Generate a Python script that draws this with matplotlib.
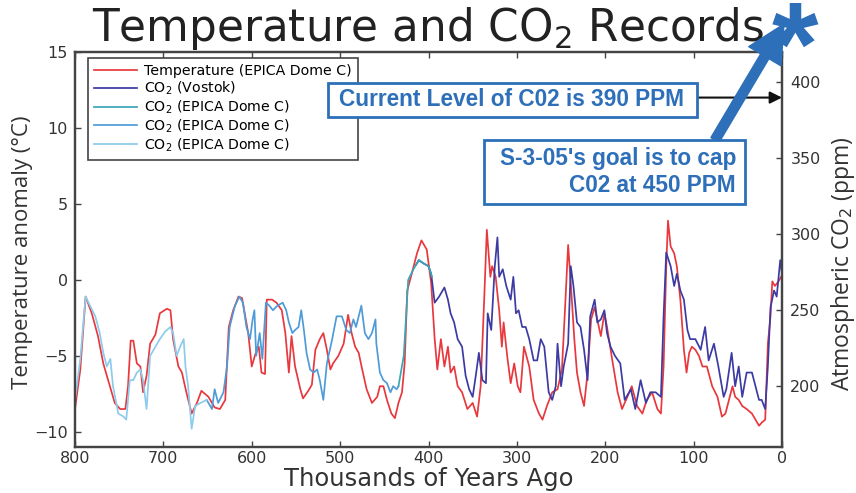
import matplotlib
matplotlib.use("Agg")
import matplotlib.pyplot as plt
from matplotlib.patches import Rectangle, FancyArrowPatch

# ---- temperature anomaly, EPICA Dome C (kyr before present, deg C) ----
temp_age = [800, 794, 788, 781, 774, 768, 762, 755, 749, 743,
            740, 737, 734, 730, 726, 723, 719, 715, 709, 704,
            696, 692, 689, 683, 679, 674, 668, 662, 657, 649,
            642, 636, 630, 626, 621, 615, 611, 604, 600, 596,
            592, 589, 585, 583, 577, 572, 566, 562, 558, 555,
            551, 545, 542, 536, 532, 528, 523, 519, 515, 511,
            508, 502, 496, 491, 487, 483, 479, 475, 470, 464,
            458, 455, 451, 447, 442, 438, 434, 430, 427, 424,
            419, 413, 408, 402, 397, 393, 390, 386, 382, 378,
            375, 371, 367, 362, 356, 350, 345, 341, 337, 334,
            330, 328, 324, 320, 317, 315, 311, 307, 303, 299,
            296, 292, 286, 281, 275, 271, 266, 260, 254, 249,
            245, 242, 239, 235, 232, 228, 224, 220, 216, 212,
            209, 205, 201, 198, 192, 186, 181, 175, 170, 164,
            158, 153, 147, 141, 137, 134, 131, 129, 126, 122,
            119, 115, 111, 108, 105, 102, 98, 94, 90, 85,
            79, 73, 68, 64, 60, 56, 53, 49, 45, 40,
            34, 30, 26, 23, 19, 16, 13, 11, 8, 4,
            1]
temp_anom = [-8.5, -5.9, -1.1, -2.2, -3.7, -5.5, -6.7, -8.1, -8.5, -8.5,
             -7.0, -4.0, -4.0, -5.5, -5.7, -7.4, -6.3, -4.2, -3.6, -2.2,
             -1.9, -2.0, -3.9, -5.7, -6.1, -7.4, -8.8, -8.1, -7.3, -7.7,
             -8.4, -8.5, -7.9, -3.1, -2.0, -1.1, -1.2, -3.5, -5.7, -4.9,
             -4.4, -6.1, -6.2, -1.3, -1.3, -1.5, -2.0, -3.5, -6.1, -3.7,
             -5.7, -7.2, -7.8, -7.3, -6.9, -4.6, -3.9, -3.5, -4.6, -5.9,
             -5.5, -5.0, -4.2, -2.3, -3.5, -4.4, -4.8, -5.9, -7.2, -8.1,
             -7.7, -7.0, -7.0, -7.9, -8.8, -9.1, -8.1, -7.4, -5.5, -0.7,
             0.4, 1.75, 2.6, 2.0, -0.2, -3.9, -5.9, -3.9, -5.7, -4.4,
             -6.1, -5.7, -7.0, -7.4, -8.5, -8.1, -9.0, -7.0, -1.3, 3.3,
             0.2, 0.9, 0.2, -2.0, -4.4, -2.8, -5.0, -6.8, -5.5, -7.0,
             -7.4, -4.4, -5.7, -7.9, -8.8, -9.2, -8.3, -7.4, -7.2, -5.9,
             -1.3, 2.3, -0.2, -3.9, -6.1, -7.4, -8.3, -6.1, -2.6, -1.8,
             -2.6, -3.7, -2.2, -3.1, -5.3, -7.4, -8.5, -7.7, -7.0, -8.3,
             -8.8, -7.9, -7.4, -8.5, -8.8, -5.7, 0.9, 3.9, 2.2, 1.75,
             0.9, -1.3, -4.6, -6.1, -4.8, -4.4, -4.6, -5.0, -5.7, -5.7,
             -7.0, -7.7, -9.0, -8.8, -7.9, -7.0, -7.7, -7.9, -8.3, -8.5,
             -8.8, -9.2, -9.6, -9.4, -9.2, -4.2, -2.4, -0.1, -0.4, -0.1,
             0.2]

# ---- CO2, Vostok (kyr, ppm) ----
vostok_age = [414, 411, 406, 400, 397, 393, 388, 382, 378, 375,
              371, 367, 362, 358, 354, 350, 346, 343, 339, 335,
              333, 329, 325, 322, 320, 316, 312, 307, 304, 301,
              298, 294, 290, 286, 281, 277, 273, 269, 264, 260,
              256, 254, 250, 247, 242, 239, 236, 232, 228, 224,
              220, 217, 212, 209, 205, 201, 198, 194, 189, 183,
              178, 171, 166, 160, 154, 149, 143, 137, 134, 131,
              126, 122, 119, 115, 111, 107, 104, 98, 92, 87,
              83, 77, 72, 66, 63, 57, 53, 49, 45, 40,
              34, 30, 26, 23, 19, 16, 13, 9, 6, 2,
              0]
vostok_ppm = [280, 283, 281, 279, 274, 255, 259, 265, 257, 248,
              242, 231, 226, 207, 198, 193, 209, 222, 204, 202,
              248, 237, 279, 298, 272, 277, 266, 257, 272, 248,
              250, 239, 239, 231, 217, 217, 231, 226, 196, 191,
              200, 228, 200, 213, 228, 279, 266, 242, 239, 224,
              204, 246, 257, 242, 244, 250, 235, 226, 220, 215,
              191, 198, 185, 204, 189, 196, 196, 193, 246, 288,
              279, 266, 274, 263, 257, 237, 231, 231, 224, 239,
              217, 228, 213, 193, 198, 222, 200, 213, 193, 209,
              209, 200, 191, 191, 185, 213, 252, 263, 259, 283,
              274]

# ---- CO2, EPICA Dome C, three records (kyr, ppm) ----
epica1_age = [434, 428, 423, 417, 411, 406, 400, 396]
epica1_ppm = [200, 220, 270, 277, 283, 281, 279, 272]

epica2_age = [651, 645, 642, 638, 632, 628, 625, 619, 614, 610,
              606, 602, 599, 597, 595, 591, 588, 584, 580, 576,
              571, 565, 561, 558, 554, 551, 547, 544, 541, 538,
              534, 530, 526, 523, 519, 515, 509, 504, 498, 493,
              489, 485, 482, 476, 472, 468, 464, 460, 459, 455,
              451, 447, 443, 440, 436, 434]
epica2_ppm = [191, 185, 198, 189, 196, 213, 239, 253, 259, 255,
              239, 231, 244, 250, 220, 235, 218, 255, 253, 250,
              253, 255, 250, 242, 235, 237, 239, 250, 237, 222,
              211, 209, 211, 204, 191, 215, 231, 246, 246, 237,
              235, 244, 239, 253, 235, 231, 235, 244, 228, 209,
              204, 202, 196, 200, 198, 200]

epica3_age = [800, 794, 788, 783, 777, 772, 768, 764, 760, 757,
              751, 745, 742, 738, 734, 730, 726, 723, 719, 715,
              709, 704, 698, 692, 689, 685, 681, 677, 675, 672,
              668, 664, 658, 651]
epica3_ppm = [191, 218, 259, 253, 246, 235, 222, 213, 218, 200,
              182, 180, 178, 204, 204, 209, 211, 204, 185, 220,
              226, 231, 236, 239, 235, 220, 226, 231, 213, 200,
              172, 187, 189, 191]

x_ticks = [800, 700, 600, 500, 400, 300, 200, 100, 0]
temp_ticks = [-10, -5, 0, 5, 10, 15]
co2_ticks = [200, 250, 300, 350, 400]

current_ppm = 390
cap_ppm = 450

RED = "#e8383d"
NAVY = "#3b3ba3"
TEAL = "#3aa6b6"
MIDBLUE = "#4e9bd8"
LIGHTBLUE = "#8ccbed"
NOTE_BLUE = "#2d6fb8"
INK = "#333333"

W, H = 856, 493
fig = plt.figure(figsize=(W / 100, H / 100), dpi=100)
fig.patch.set_facecolor("white")

def fx(px):
    return px / W

def fy(py):
    return 1 - py / H

ax = fig.add_axes([fx(75), fy(447), 707 / W, 395 / H])
ax2 = ax.twinx()

l_temp, = ax.plot(temp_age, temp_anom, color=RED, lw=1.25)
l_vos, = ax2.plot(vostok_age, vostok_ppm, color=NAVY, lw=1.25)
l_e1, = ax2.plot(epica1_age, epica1_ppm, color=TEAL, lw=1.25)
l_e2, = ax2.plot(epica2_age, epica2_ppm, color=MIDBLUE, lw=1.25)
l_e3, = ax2.plot(epica3_age, epica3_ppm, color=LIGHTBLUE, lw=1.25)

ax.set_xlim(800, 0)
ax.set_ylim(-11, 15)
ax2.set_ylim(160, 420)
ax.set_xticks(x_ticks)
ax.set_xticklabels([str(v) for v in x_ticks])
ax.set_yticks(temp_ticks)
ax2.set_yticks(co2_ticks)

ax.tick_params(axis="both", direction="in", length=4, width=1,
               labelsize=11.5, labelcolor=INK, color="#444")
ax.tick_params(axis="x", top=True, pad=3)
ax.tick_params(axis="y", pad=5)
ax2.tick_params(axis="y", direction="in", length=4, width=1,
                labelsize=11.5, labelcolor=INK, color="#444", pad=6)
for a in (ax, ax2):
    for sp in a.spines.values():
        sp.set_color("#444444")
        sp.set_linewidth(1.6)

ax.set_title("Temperature and CO$_2$ Records", fontsize=31.5, color="#222222", pad=5)
ax.set_xlabel("Thousands of Years Ago", fontsize=17.5, color=INK)
ax.xaxis.set_label_coords(0.5, -0.05)
ax.set_ylabel("Temperature anomaly (°C)", fontsize=16, color=INK, family="Open Sans")
ax.yaxis.set_label_coords(-0.06, 0.494)
ax2.set_ylabel("Atmospheric CO$_2$ (ppm)", fontsize=16.5, color=INK, family="Open Sans")
ax2.yaxis.set_label_coords(1.066, 0.463)

leg = ax2.legend([l_temp, l_vos, l_e1, l_e2, l_e3],
                 ["Temperature (EPICA Dome C)", "CO$_2$ (Vostok)",
                  "CO$_2$ (EPICA Dome C)", "CO$_2$ (EPICA Dome C)",
                  "CO$_2$ (EPICA Dome C)"],
                 loc="upper left", bbox_to_anchor=(0.018, 0.985),
                 borderaxespad=0, fontsize=10.2, handlelength=3.0,
                 handletextpad=0.5, labelspacing=0.1, borderpad=0.45,
                 fancybox=False, framealpha=1, edgecolor="#444444")
leg.get_frame().set_linewidth(1.2)

# current level note with black arrow to the CO2 axis
ax2.annotate("", xy=(0, current_ppm), xytext=(96, current_ppm),
             arrowprops=dict(arrowstyle="-|>", color="#111111", lw=1.5,
                             mutation_scale=18, shrinkA=0, shrinkB=0),
             annotation_clip=False)
fig.add_artist(Rectangle((fx(328), fy(117)), 369 / W, 34 / H,
                         transform=fig.transFigure, fc="white",
                         ec=NOTE_BLUE, lw=2))
fig.text(fx(512), fy(100), f"Current Level of C02 is {current_ppm} PPM",
         ha="center", va="center", color=NOTE_BLUE, fontsize=16.3,
         fontweight="bold", family="Liberation Sans")

# goal note with thick arrow up to the corner star
fig.add_artist(FancyArrowPatch((fx(715), fy(140)), (fx(784), fy(24)),
                               transform=fig.transFigure,
                               arrowstyle="simple,head_length=1.5,head_width=1.5,tail_width=0.38",
                               mutation_scale=18, fc=NOTE_BLUE, ec=NOTE_BLUE,
                               shrinkA=0, shrinkB=0))
fig.add_artist(Rectangle((fx(484), fy(204)), 261 / W, 64 / H,
                         transform=fig.transFigure, fc="white",
                         ec=NOTE_BLUE, lw=2))
fig.text(fx(736), fy(172), f"S-3-05's goal is to cap\nC02 at {cap_ppm} PPM",
         ha="right", va="center", multialignment="right", color=NOTE_BLUE,
         fontsize=16.3, fontweight="bold", family="Liberation Sans")
fig.text(fx(795), fy(85), "*", ha="center", va="baseline", color=NOTE_BLUE,
         fontsize=86, fontweight="bold", family="Liberation Sans")

fig.savefig("out.png", dpi=100, facecolor="white")
